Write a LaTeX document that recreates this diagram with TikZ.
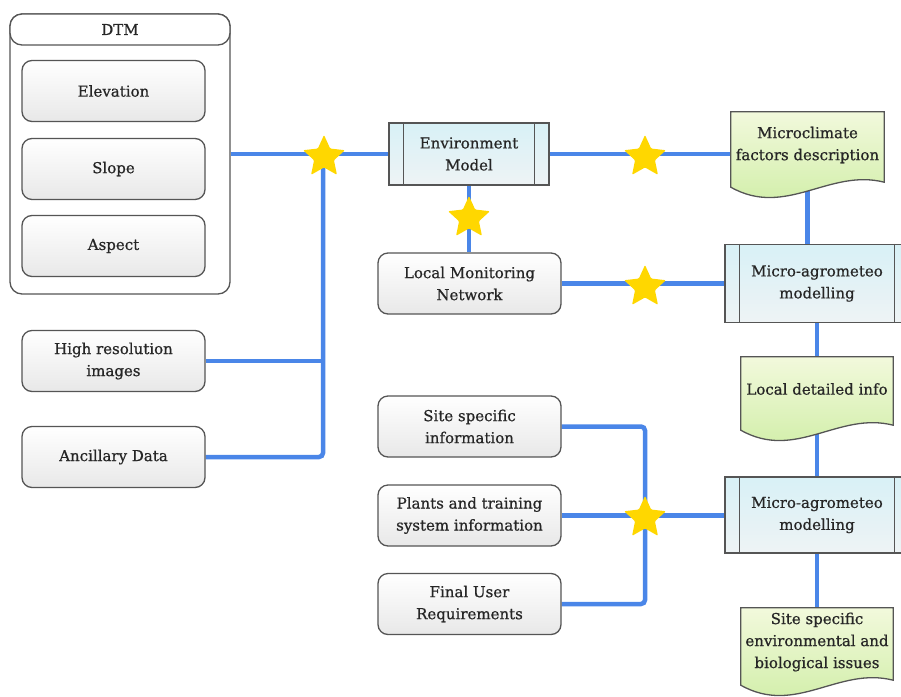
\documentclass[tikz,border=0pt]{standalone}
\usepackage{fontspec}
\setmainfont{DejaVu Serif}
\newfontfamily\diagfont{DejaVu Serif}[FakeBold=0.7]
\usetikzlibrary{shapes.geometric,backgrounds,calc}
\definecolor{linkblue}{HTML}{4A86E8}
\definecolor{starc}{HTML}{FFD700}
\definecolor{edgec}{HTML}{555555}
\definecolor{txtc}{HTML}{262626}
\definecolor{procTop}{HTML}{D8F1F6}
\definecolor{procBot}{HTML}{EEF3F5}
\definecolor{docTop}{HTML}{F2F9DC}
\definecolor{docBot}{HTML}{CDEDA2}
\pgfdeclarelayer{mid}
\pgfsetlayers{background,mid,main}
\newcommand\proclines[1]{%
  \draw[edgec,line width=1.2pt] ($(#1.north west)+(15,0)$) -- ($(#1.south west)+(15,0)$);
  \draw[edgec,line width=1.2pt] ($(#1.north east)+(-15,0)$) -- ($(#1.south east)+(-15,0)$);}
\newcommand\docshape[1]{%
  \begin{pgfonlayer}{mid}
  \path[draw=edgec,line width=1.3pt,top color=docTop,bottom color=docBot]
    (#1.north west) -- (#1.north east) -- ($(#1.south east)+(0,4)$)
    .. controls ($(#1.south east)+(-55,-10)$) and ($(#1.south west)+(55,40)$) ..
    ($(#1.south west)+(0,9)$) -- cycle;
  \end{pgfonlayer}}
\begin{document}
\begin{tikzpicture}[x=1pt,y=-1pt,
  txt/.style={font=\diagfont\fontsize{15}{22}\selectfont, align=center, text=txtc},
  gbox/.style={txt, rectangle, rounded corners=10pt, draw=edgec, line width=1.3pt,
    top color=white, bottom color=black!9, minimum width=183pt, minimum height=61pt, inner sep=0pt},
  pbox/.style={txt, rectangle, draw=edgec, line width=1.3pt, top color=procTop,
    bottom color=procBot, inner sep=0pt},
  docnode/.style={txt, rectangle, inner sep=0pt},
  link/.style={draw=linkblue, line width=4.5pt, rounded corners=4pt},
  starn/.style={star, star points=5, star point ratio=2.1, fill=starc,
    minimum size=44pt, inner sep=0pt, rounded corners=1pt},
]
\useasboundingbox (0,0) rectangle (901,696);
% DTM container
\node[draw=edgec, line width=1.3pt, rounded corners=12pt, minimum width=220pt,
  minimum height=280pt, fill=white, inner sep=0pt] (dtm) at (120,154) {};
\node[txt, draw=edgec, line width=1.3pt, rounded corners=12pt, minimum width=220pt,
  minimum height=31pt, fill=white, inner sep=0pt] (dtmt) at (120,29.5) {DTM};
\node[gbox] (elev) at (113.5,91) {Elevation};
\node[gbox] (slope) at (113.5,169) {Slope};
\node[gbox] (aspect) at (113.5,246) {Aspect};
\node[gbox] (hri) at (113.5,361) {High resolution\\images};
\node[gbox] (anc) at (113.5,457) {Ancillary Data};
% middle column
\node[pbox, minimum width=160pt, minimum height=62pt] (env) at (469,154) {Environment\\Model};
\proclines{env}
\node[gbox] (lmn) at (469.5,283.5) {Local Monitoring\\Network};
\node[gbox] (ssi) at (469.5,426.5) {Site specific\\information};
\node[gbox] (pts) at (469.5,515.5) {Plants and training\\system information};
\node[gbox] (fur) at (469.5,604) {Final User\\Requirements};
% right column
\node[docnode, minimum width=153pt, minimum height=66pt] (mc) at (807.5,145) {Microclimate\\factors description};
\docshape{mc}
\node[pbox, minimum width=184pt, minimum height=78pt] (m1) at (817,283.5) {Micro-agrometeo\\modelling};
\proclines{m1}
\node[docnode, minimum width=152pt, minimum height=64pt] (ldi) at (817,389) {Local detailed info};
\docshape{ldi}
\node[pbox, minimum width=184pt, minimum height=76pt] (m2) at (817,515) {Micro-agrometeo\\modelling};
\proclines{m2}
\node[docnode, minimum width=152pt, minimum height=68pt] (ssd) at (817,642) {Site specific\\environmental and\\biological issues};
\docshape{ssd}
% connectors
\coordinate (j1) at (323,154);
\coordinate (j2) at (645,515.5);
\begin{pgfonlayer}{background}
\draw[link] (dtm.east) -- (env.west);
\draw[link] (j1) |- (anc.east);
\draw[link] (hri.east) -- (hri.east -| j1);
\draw[link] (env.east) -- (env.east -| mc.west);
\draw[link] (env.south) -- (env.south |- lmn.north);
\draw[link] (lmn.east) -- (lmn.east -| m1.west);
\draw[link] (mc.south) -- (mc.south |- m1.north);
\draw[link] (m1.south) -- (ldi.north);
\draw[link] (ldi.south) -- (m2.north);
\draw[link] (m2.south) -- (ssd.north);
\draw[link] (ssi.east) -| (j2) |- (fur.east);
\draw[link] (pts.east) -- (pts.east -| m2.west);
\end{pgfonlayer}
% stars
\node[starn] (s1) at (324,157) {};
\node[starn] (s2) at (645,157) {};
\node[starn] (s3) at (469,218) {};
\node[starn] (s4) at (645,287) {};
\node[starn] (s5) at (645,518) {};
\end{tikzpicture}
\end{document}
